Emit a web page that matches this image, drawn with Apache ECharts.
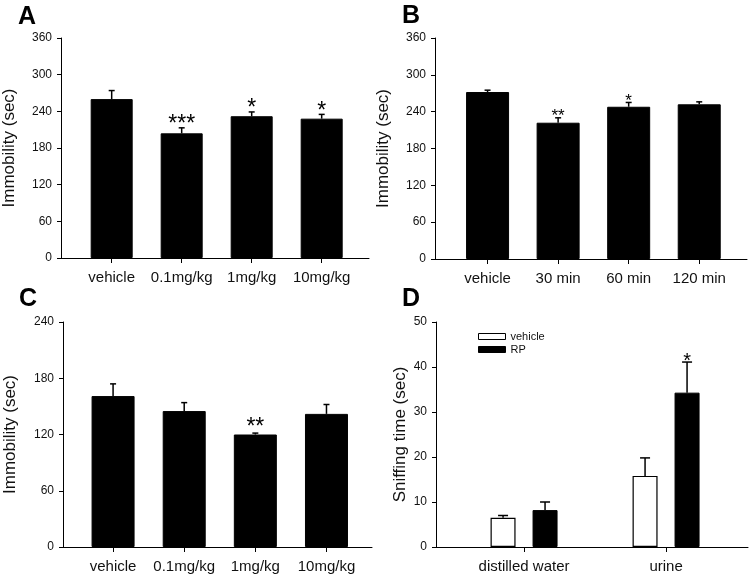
<!DOCTYPE html>
<html><head><meta charset="utf-8">
<script src="https://cdn.jsdelivr.net/npm/echarts@6/dist/echarts.min.js"></script>
<style>html,body{margin:0;padding:0;background:#fff}#c{width:755px;height:580px}</style>
</head><body><div id="c"></div>
<script>
// ---- data ----
const catsA = ['vehicle', '0.1mg/kg', '1mg/kg', '10mg/kg'];
const valsA = [260, 204, 232, 228];
const errA  = [14, 9, 7, 7];
const sigA  = ['', '***', '*', '*'];

const catsB = ['vehicle', '30 min', '60 min', '120 min'];
const valsB = [272, 222, 248, 252];
const errB  = [3, 8, 7, 4];
const sigB  = ['', '**', '*', ''];

const catsC = ['vehicle', '0.1mg/kg', '1mg/kg', '10mg/kg'];
const valsC = [161, 145, 120, 142];
const errC  = [13, 9, 1.5, 10];
const sigC  = ['', '', '**', ''];

const catsD = ['distilled water', 'urine'];
const vehD    = [6.5, 15.8];
const vehDErr = [0.5, 4];
const vehDSig = ['', ''];
const rpD     = [8.2, 34.3];
const rpDErr  = [1.8, 6.8];
const rpDSig  = ['', '*'];

const FONT = 'Liberation Sans, Arial, sans-serif';
const TXT = '#111';

const grids = [
  {left: 61, top: 38, width: 308, height: 220},
  {left: 435, top: 38, width: 312, height: 221},
  {left: 63, top: 322, width: 309, height: 225},
  {left: 436, top: 322, width: 312, height: 225}
];
const xRange = [[0.276, 4.676], [0.255, 4.677], [0.296, 4.64], [0.38, 2.577]];
const yCfg = [
  {max: 360, interval: 60, name: 'Immobility (sec)', gap: 43},
  {max: 360, interval: 60, name: 'Immobility (sec)', gap: 43},
  {max: 240, interval: 60, name: 'Immobility (sec)', gap: 44},
  {max: 50, interval: 10, name: 'Sniffing time (sec)', gap: 27}
];
const allCats = [catsA, catsB, catsC, catsD];

const xAxis = allCats.map((cats, i) => ({
  type: 'value', gridIndex: i, min: xRange[i][0], max: xRange[i][1],
  splitLine: {show: false},
  axisLine: {show: true, onZero: false, lineStyle: {color: '#000', width: 1}},
  axisTick: {show: true, length: 5, lineStyle: {color: '#000'}, customValues: cats.map((c, k) => k + 1)},
  axisLabel: {show: true, margin: 12, fontSize: 15, fontFamily: FONT, color: TXT,
    customValues: cats.map((c, k) => k + 1),
    formatter: v => cats[Math.round(v) - 1] || ''}
}));

const yAxis = yCfg.map((c, i) => ({
  type: 'value', gridIndex: i, min: 0, max: c.max, interval: c.interval,
  name: c.name, nameLocation: 'middle', nameGap: c.gap,
  nameTextStyle: {fontSize: 17, fontFamily: FONT, color: TXT},
  splitLine: {show: false},
  axisLine: {show: true, lineStyle: {color: '#000', width: 1}},
  axisTick: {show: true, length: 4, lineStyle: {color: '#000'}},
  axisLabel: {margin: 9, fontSize: 12, fontFamily: FONT, color: TXT}
}));

function errSeries(i, vals, errs, sigs, dx, cap, starSize, starOff) {
  return {
    type: 'custom', xAxisIndex: i, yAxisIndex: i, z: 5,
    data: vals.map((v, k) => [k + 1, v, errs[k]]),
    renderItem: (params, api) => {
      const x = api.value(0), y = api.value(1), e = api.value(2);
      const p0 = api.coord([x, y]);
      const p1 = api.coord([x, y + e]);
      const cx = p0[0] + dx;
      const st = {stroke: '#000', lineWidth: 1.5};
      return {
        type: 'group',
        children: [
          {type: 'line', shape: {x1: cx, y1: p0[1], x2: cx, y2: p1[1]}, style: st},
          {type: 'line', shape: {x1: cx - cap, y1: p1[1], x2: cx + cap, y2: p1[1]}, style: st},
          {type: 'text', x: cx, y: p1[1] - starOff,
            style: {text: sigs[params.dataIndex], font: starSize + 'px ' + FONT, fill: '#000',
              align: 'center', verticalAlign: 'middle'}}
        ]
      };
    }
  };
}

function barSeries(i, vals, barW) {
  return {
    type: 'bar', name: 'p' + i, xAxisIndex: i, yAxisIndex: i, barWidth: barW,
    data: vals.map((v, k) => [k + 1, v]),
    itemStyle: {color: '#000', borderColor: '#000', borderWidth: 1}
  };
}

const series = [
  barSeries(0, valsA, 42), errSeries(0, valsA, errA, sigA, 0, 3, 23, 3),
  barSeries(1, valsB, 43), errSeries(1, valsB, errB, sigB, 0, 3, 17, 1),
  barSeries(2, valsC, 43), errSeries(2, valsC, errC, sigC, 0, 3, 23, 5.5),
  {type: 'bar', name: 'vehicle', xAxisIndex: 3, yAxisIndex: 3, barWidth: 25, barGap: '68%',
    data: vehD.map((v, k) => [k + 1, v]),
    itemStyle: {color: '#fff', borderColor: '#000', borderWidth: 1.2}},
  {type: 'bar', name: 'RP', xAxisIndex: 3, yAxisIndex: 3, barWidth: 25, barGap: '68%',
    data: rpD.map((v, k) => [k + 1, v]),
    itemStyle: {color: '#000', borderColor: '#000', borderWidth: 1}},
  errSeries(3, vehD, vehDErr, vehDSig, -21, 5, 20, 1),
  errSeries(3, rpD, rpDErr, rpDSig, 21, 5, 20, 1)
];

const letters = [['A', 18, 5], ['B', 402, 4], ['C', 19, 287], ['D', 402, 287]];

const option = {
  animation: false,
  backgroundColor: '#fff',
  grid: grids,
  xAxis: xAxis,
  yAxis: yAxis,
  legend: {
    data: ['vehicle', 'RP'], orient: 'vertical', left: 473, top: 326,
    itemWidth: 27, itemHeight: 6, itemGap: 2, icon: 'rect', selectedMode: false,
    itemStyle: {borderWidth: 1},
    textStyle: {fontSize: 11, fontFamily: FONT, color: TXT}
  },
  graphic: letters.map(l => ({
    type: 'text', left: l[1], top: l[2],
    style: {text: l[0], font: 'bold 25px ' + FONT, fill: '#000'}
  })),
  series: series
};

const chart = echarts.init(document.getElementById('c'), null, {renderer: 'canvas'});
chart.setOption(option);
</script>
</body></html>
